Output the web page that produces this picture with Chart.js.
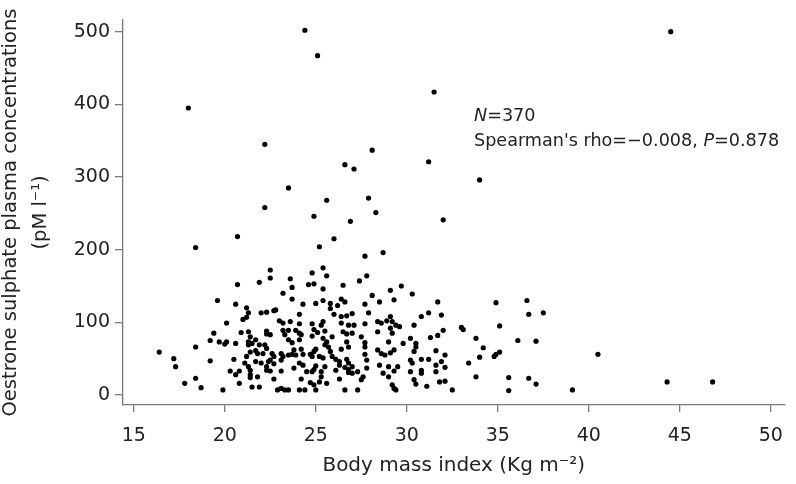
<!DOCTYPE html>
<html>
<head>
<meta charset="utf-8">
<script src="https://cdn.jsdelivr.net/npm/chart.js@4.4.1/dist/chart.umd.min.js"></script>
<style>
html,body{margin:0;padding:0;background:#ffffff;}
#wrap{width:796px;height:484px;}
</style>
</head>
<body>
<div id="wrap"><canvas id="c" width="796" height="484"></canvas></div>
<script>
// ---- data ----
const bmi = [
  // sparse upper points
  24.4,25.1,31.5,18.0,22.2,28.1,26.6,27.1,31.2,23.5,22.2,25.6,27.9,24.9,28.3,26.9,32.0,44.5,34.0,
  // 100-220 band, left
  20.7,18.4,22.5,22.5,21.9,20.7,23.2,19.6,20.6,21.2,21.3,22.0,22.3,22.7,22.8,
  // 100-220 band, middle
  26.0,25.2,27.7,28.7,25.4,24.8,25.6,27.8,27.4,23.6,23.7,24.6,24.9,25.4,26.5,29.7,29.1,30.3,28.1,23.7,
  24.3,25.0,25.4,25.8,25.8,26.2,26.4,26.6,27.7,28.5,29.3,24.1,26.0,27.0,27.9,31.2,31.7,
  // 100-140 band, right
  34.9,36.6,36.7,37.5,31.9,
  // lower right
  32.0,31.7,33.0,33.1,35.1,33.8,36.1,37.1,34.2,31.6,32.1,34.0,34.8,34.9,35.1,31.9,31.6,32.1,33.4,31.6,
  33.8,35.6,36.7,37.1,31.8,32.1,32.5,35.6,39.1,
  40.5,44.3,46.8,
  // lower left
  21.0,21.2,20.1,23.0,23.2,19.4,20.9,21.3,21.4,21.3,22.3,22.3,22.5,23.2,23.3,19.2,19.7,20.0,
  20.1,20.6,18.4,16.4,21.3,21.5,21.7,21.9,22.2,22.3,21.4,21.7,21.8,22.1,21.2,22.6,22.7,22.5,23.1,23.1,
  23.2,17.2,19.2,20.5,21.1,21.3,21.7,22.0,22.3,22.4,22.7,17.3,20.3,20.8,21.4,22.3,22.5,23.1,20.6,21.4,
  21.4,21.8,18.4,17.8,22.7,20.8,18.7,19.9,21.5,21.9,22.9,23.1,23.3,
  // lower middle
  26.4,26.7,29.1,30.8,23.6,23.5,24.1,24.8,25.4,25.3,26.4,26.8,27.1,27.7,28.4,
  28.6,28.9,29.2,29.4,29.6,30.4,23.9,24.1,24.2,24.9,25.1,25.5,26.5,26.7,27.0,
  28.4,29.1,29.2,23.5,23.7,24.1,24.8,25.4,25.6,25.5,25.9,26.7,27.5,27.7,29.0,
  29.8,30.2,30.5,30.5,31.3,23.8,24.2,24.9,25.0,25.7,25.8,26.4,26.8,27.7,28.4,
  30.4,23.5,23.7,23.9,24.3,24.7,24.8,25.2,25.4,25.9,26.1,26.3,26.7,26.8,27.7,
  27.8,28.8,29.1,29.3,28.6,30.2,30.3,30.8,31.2,24.1,24.3,23.8,24.9,25.0,25.5,
  26.3,26.6,26.8,27.0,27.3,27.8,28.5,29.0,29.3,29.5,30.8,24.5,24.8,25.3,26.1,
  26.8,27.0,28.7,29.0,30.2,27.6,27.5,25.3,25.2,24.2,26.3,24.7,24.9,25.6,29.2,
  29.3,29.4,30.4,30.5,31.1,30.8,24.1,24.4,25.0,26.6,27.3,23.5
];
const oestroneSulphate = [
  502,467,417,395,345,337,317,311,321,285,258,268,271,246,251,239,241,500,296,
  218,203,172,161,155,152,140,130,125,120,113,113,114,116,117,
  215,204,191,196,175,168,164,164,157,160,148,152,153,146,151,150,144,139,137,132,
  125,126,130,126,119,123,132,128,125,128,131,111,111,112,113,113,128,
  127,130,111,113,110,
  89,82,93,90,95,78,75,74,65,61,55,52,53,56,59,46,41,38,44,32,
  25,24,23,15,18,19,7,6,7,
  56,18,18,
  104,107,99,102,99,85,86,87,80,73,88,84,83,89,83,75,73,70,
  73,71,66,59,69,71,76,69,69,64,59,61,57,57,53,57,53,48,57,48,
  53,50,47,49,44,39,46,44,39,46,43,39,33,33,34,34,33,33,28,28,
  24,25,23,16,22,16,10,7,11,11,7,9,7,
  108,109,108,108,101,89,98,98,101,96,99,96,96,98,101,
  99,102,101,96,94,96,89,85,83,90,86,88,87,84,85,
  87,92,85,76,72,76,81,78,73,69,80,73,80,72,73,
  71,78,71,66,79,62,63,60,63,66,60,63,66,66,62,
  60,55,56,55,56,56,53,53,51,53,49,46,49,44,56,
  48,55,58,62,57,48,44,49,49,44,41,37,35,40,39,
  41,38,35,39,32,37,41,39,33,39,34,32,32,32,34,
  31,30,30,25,32,25,21,25,18,22,22,17,14,16,14,
  9,7,21,15,12,30,7,7,7,7,7,7
];
const xTicks = [15,20,25,30,35,40,45,50];
const yTicks = [0,100,200,300,400,500];
const xTitle = 'Body mass index (Kg m\u207B\u00B2)';
const yTitle = ['Oestrone sulphate plasma concentrations', '(pM l\u207B\u00B9)'];
const statN = '370';
const statRho = '\u22120.008';
const statP = '0.878';

const FONT = '"DejaVu Sans", "Liberation Sans", Arial, sans-serif';
const TEXT = '#222222';
const AXIS = '#7a7a7a';

const annotation = {
  id: 'annotation',
  afterDraw(chart) {
    const ctx = chart.ctx;
    const x0 = chart.chartArea.left + 351;
    const y0 = chart.chartArea.top + 96;
    const size = 17.6;
    const put = (parts, x, y) => {
      let cx = x;
      for (const [t, italic] of parts) {
        ctx.font = (italic ? 'italic ' : '') + size + 'px ' + FONT;
        ctx.fillText(t, cx, y);
        cx += ctx.measureText(t).width;
      }
    };
    ctx.save();
    ctx.fillStyle = TEXT;
    ctx.textBaseline = 'middle';
    ctx.textAlign = 'left';
    put([['N', true], ['=' + statN, false]], x0, y0);
    put([["Spearman's rho=" + statRho + ', ', false], ['P', true], ['=' + statP, false]], x0, y0 + 25);
    ctx.restore();
  }
};

const points = bmi.map((v, i) => ({ x: v, y: oestroneSulphate[i] }));

new Chart(document.getElementById('c'), {
  type: 'scatter',
  data: {
    datasets: [{
      data: points,
      pointRadius: 2.6,
      pointHoverRadius: 2.6,
      pointBackgroundColor: '#000000',
      pointBorderWidth: 0,
      borderWidth: 0
    }]
  },
  options: {
    responsive: false,
    animation: false,
    devicePixelRatio: 1,
    layout: { padding: { top: 20, right: 0, bottom: 0, left: 0 } },
    plugins: { legend: { display: false }, tooltip: { enabled: false } },
    scales: {
      x: {
        type: 'linear',
        min: 14.41,
        max: 50.75,
        afterBuildTicks: s => { s.ticks = xTicks.map(v => ({ value: v })); },
        afterFit: s => { s.height = 79; },
        grid: { drawOnChartArea: false, drawTicks: true, tickLength: 7, color: AXIS, tickColor: AXIS, lineWidth: 1.3 },
        border: { display: true, color: AXIS, width: 1.3 },
        ticks: { padding: 13, color: TEXT, font: { family: FONT, size: 19 }, maxRotation: 0, autoSkip: false },
        title: { display: true, text: xTitle, color: TEXT, font: { family: FONT, size: 20 }, padding: { top: 0, bottom: 6 } }
      },
      y: {
        type: 'linear',
        min: -13.8,
        max: 516.1,
        afterBuildTicks: s => { s.ticks = yTicks.map(v => ({ value: v })); },
        afterFit: s => { s.width = 123; },
        grid: { drawOnChartArea: false, drawTicks: true, tickLength: 8, color: AXIS, tickColor: AXIS, lineWidth: 1.3 },
        border: { display: true, color: AXIS, width: 1.3 },
        ticks: { padding: 5, color: TEXT, font: { family: FONT, size: 19 }, autoSkip: false },
        title: { display: true, text: yTitle, color: TEXT, font: { family: FONT, size: 19.5, lineHeight: '30px' }, padding: { top: -4, bottom: 0 } }
      }
    }
  },
  plugins: [annotation]
});
</script>
</body>
</html>
